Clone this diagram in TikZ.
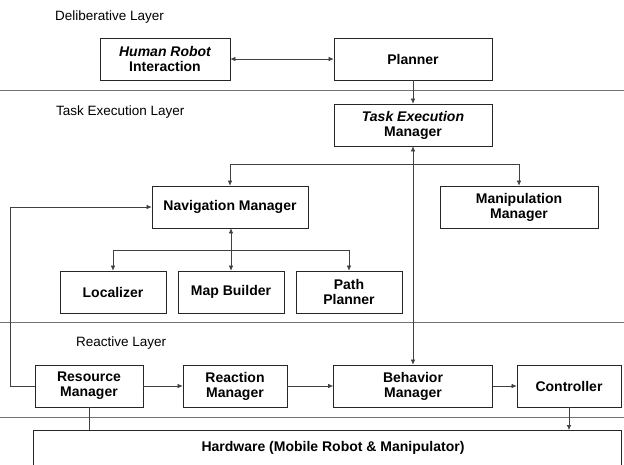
\documentclass[tikz,border=0pt]{standalone}
\usepackage{fontspec}
\setmainfont{Liberation Sans}
\usetikzlibrary{arrows.meta}
\begin{document}
\begin{tikzpicture}[x=1pt,y=-1pt,
  box/.style={draw=black!85,line width=0.7pt,minimum height=42pt,inner sep=2pt,
    font=\fontsize{14}{15}\selectfont\bfseries,align=center},
  layer/.style={anchor=west,inner sep=0pt,font=\fontsize{13.5}{15}\selectfont},
  conn/.style={draw=black!75,line width=0.6pt},
  arr/.style={conn,-{Latex[length=5pt,width=4.5pt]}},
  darr/.style={conn,{Latex[length=5pt,width=4.5pt]}-{Latex[length=5pt,width=4.5pt]}},
  divider/.style={draw=black!55,line width=0.6pt}]
\clip (0,0) rectangle (624,464);
\fill[white] (0,0) rectangle (624,464);

% layer labels
\node[layer] (dl) at (55,17) {Deliberative Layer};
\node[layer] (tl) at (56,112) {Task Execution Layer};
\node[layer] (rl) at (76,343) {Reactive Layer};

% dividers
\coordinate (d1a) at (0,90);  \coordinate (d1b) at (624,90);
\coordinate (d2a) at (0,322); \coordinate (d2b) at (624,322);
\coordinate (d3a) at (0,417); \coordinate (d3b) at (624,417);
\draw[divider] (d1a) -- (d1b);
\draw[divider] (d2a) -- (d2b);
\draw[divider] (d3a) -- (d3b);

% deliberative layer
\node[box,minimum width=130pt] (hri) at (165,59) {\itshape Human Robot\\Interaction};
\node[box,minimum width=158pt] (plan) at (413,59) {Planner};

% task execution layer
\node[box,minimum width=158pt] (tem) at (413,125) {\itshape Task Execution\\Manager};
\node[box,minimum width=156pt] (nav) at (230,207) {Navigation Manager};
\node[box,minimum width=158pt] (man) at (519,207) {Manipulation\\Manager};
\node[box,minimum width=106pt] (loc) at (113,292) {Localizer};
\node[box,minimum width=106pt] (map) at (231,292) {Map Builder};
\node[box,minimum width=106pt] (pp) at (349,292) {Path\\Planner};

% reactive layer
\node[box,minimum width=108pt] (res) at (89,386) {Resource\\Manager};
\node[box,minimum width=104pt] (rea) at (235,386) {Reaction\\Manager};
\node[box,minimum width=159pt] (beh) at (413,386) {Behavior\\Manager};
\node[box,minimum width=104pt] (ctl) at (569,386) {Controller};

% hardware (bottom edge lies below the picture)
\coordinate (hwtl) at (33,430);
\coordinate (hwtr) at (621,430);
\draw[draw=black!85,line width=0.7pt] (33,470) -- (hwtl) -- (hwtr) -- (621,470);
\node[font=\fontsize{14}{15}\selectfont\bfseries,inner sep=0pt] (hw) at (333,448)
  {Hardware (Mobile Robot \& Manipulator)};

% connectors
\draw[darr] (hri) -- (plan);
\draw[arr] (plan) -- (tem);
\draw[darr] (tem) -- (beh);
\coordinate (b1) at (413,164);
\draw[arr] (b1) -| (nav);
\draw[arr] (b1) -| (man);
\draw[darr] (nav.south -| map.north) -- (map.north);
\coordinate (b2l) at (113,250);
\coordinate (b2r) at (349,250);
\draw[conn] (b2l) -- (b2r);
\draw[arr] (b2l) -- (loc);
\draw[arr] (b2r) -- (pp);
\coordinate (fb1) at (10,386);
\coordinate (fb2) at (10,207);
\draw[arr] (res.west) -- (fb1) -- (fb2) -- (nav.west);
\draw[arr] (res) -- (rea);
\draw[arr] (rea) -- (beh);
\draw[arr] (beh) -- (ctl);
\draw[conn] (res.south) -- (res.south |- hwtl);
\draw[arr] (ctl.south) -- (ctl.south |- hwtl);
\end{tikzpicture}
\end{document}
